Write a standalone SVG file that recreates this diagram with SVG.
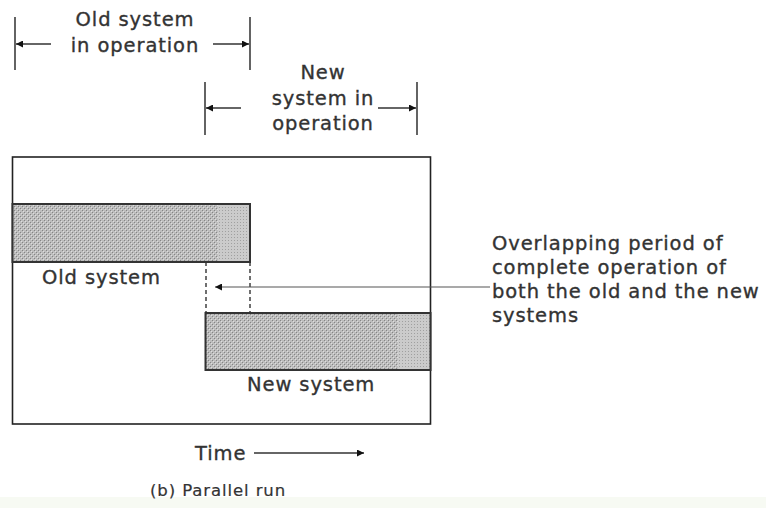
<svg xmlns="http://www.w3.org/2000/svg" width="766" height="508" viewBox="0 0 766 508">
<style>
text{font-family:"DejaVu Sans","Verdana",sans-serif;fill:#333;stroke:#333;stroke-width:0.35px;font-size:19.5px;letter-spacing:0.9px}
.c{text-anchor:middle}
.ln{stroke:#222;stroke-width:1.4;fill:none}
.ar{stroke:#333;stroke-width:1.4;fill:none;marker-end:url(#ah)}
.dash{stroke:#333;stroke-width:1.4;stroke-dasharray:4,3;fill:none}
.bar{stroke:#333;stroke-width:2}
</style>
<defs>
<marker id="ah" viewBox="0 0 10 10" refX="10" refY="5" markerWidth="7" markerHeight="7" markerUnits="userSpaceOnUse" orient="auto">
<path d="M0,0 L10,5 L0,10 z" fill="#111"/>
</marker>
<pattern id="hatch" width="4" height="4" patternUnits="userSpaceOnUse">
<rect width="4" height="4" fill="#bdbdbd"/>
<rect x="0" y="0" width="1" height="1" fill="#858585"/>
<rect x="2" y="2" width="1" height="1" fill="#858585"/>
<rect x="1" y="1" width="1" height="1" fill="#dedede"/>
<rect x="3" y="3" width="1" height="1" fill="#dedede"/>
</pattern>
<pattern id="light" width="3" height="3" patternUnits="userSpaceOnUse">
<rect width="3" height="3" fill="#cbcbcb"/>
<rect x="0" y="0" width="1" height="1" fill="#a0a0a0"/>
</pattern>
</defs>
<rect width="766" height="508" fill="#fff"/>
<rect x="0" y="497" width="766" height="11" fill="#f7faf3"/>

<g id="old-span">
<line class="ln" x1="15" y1="17" x2="15" y2="70"/>
<line class="ln" x1="250" y1="17" x2="250" y2="70"/>
<line class="ar" x1="51" y1="44" x2="16" y2="44"/>
<line class="ar" x1="213" y1="44" x2="249" y2="44"/>
<text class="c" x="135" y="26">Old system</text>
<text class="c" x="135" y="52">in operation</text>
</g>

<g id="new-span">
<line class="ln" x1="205" y1="82" x2="205" y2="135"/>
<line class="ln" x1="417" y1="82" x2="417" y2="135"/>
<line class="ar" x1="241" y1="108" x2="206" y2="108"/>
<line class="ar" x1="378" y1="108" x2="416" y2="108"/>
<text class="c" x="323" y="79">New</text>
<text class="c" x="323" y="105">system in</text>
<text class="c" x="323" y="130">operation</text>
</g>

<g id="frame">
<rect x="12.5" y="157" width="418" height="267" fill="none" stroke="#222" stroke-width="1.6"/>
</g>

<g id="old-system">
<rect x="12.5" y="204" width="237.5" height="58" fill="url(#hatch)"/>
<rect x="218" y="205" width="31" height="56" fill="url(#light)"/>
<rect class="bar" x="12.5" y="204" width="237.5" height="58" fill="none"/>
<text x="42" y="284">Old system</text>
</g>

<g id="new-system">
<rect x="205.5" y="313" width="225" height="57" fill="url(#hatch)"/>
<rect x="398" y="314" width="32" height="55" fill="url(#light)"/>
<rect class="bar" x="205.5" y="313" width="225" height="57" fill="none"/>
<text x="247" y="391">New system</text>
</g>

<g id="overlap-label">
<text x="492" y="250">Overlapping period of</text>
<text x="492" y="274">complete operation of</text>
<text x="492" y="298">both the old and the new</text>
<text x="492" y="322">systems</text>
</g>

<g id="connectors">
<line class="dash" x1="206" y1="262" x2="206" y2="313"/>
<line class="dash" x1="250" y1="262" x2="250" y2="313"/>
<line x1="490" y1="287" x2="215" y2="287" stroke="#555" stroke-width="1.2" marker-end="url(#ah)"/>
</g>

<g id="time">
<text x="195" y="460">Time</text>
<line class="ar" x1="254" y1="453" x2="364" y2="453"/>
</g>

<g id="caption">
<text x="150" y="496" style="font-size:16.5px;letter-spacing:0.9px;stroke-width:0.2px">(b) Parallel run</text>
</g>
</svg>
